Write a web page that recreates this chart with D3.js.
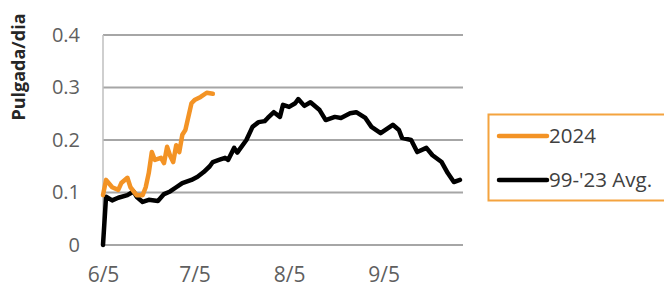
<!DOCTYPE html>
<html>
<head>
<meta charset="utf-8">
<script src="https://cdn.jsdelivr.net/npm/d3@7"></script>
<style>
  html, body { margin: 0; padding: 0; background: #fff; }
  svg { display: block; }
</style>
</head>
<body>
<svg id="chart" width="664" height="289"></svg>
<script>
// ---- data ----
const yTicks = [0, 0.1, 0.2, 0.3, 0.4];
const xTickLabels = ["6/5", "7/5", "8/5", "9/5"];

const seriesNames = ["2024", "99-'23 Avg."];

const dates2024 = ["6/5","6/6","6/8","6/10","6/11","6/13","6/14","6/16","6/18","6/19","6/20","6/21","6/22","6/24","6/25","6/26","6/27","6/28","6/29","6/30","7/1","7/2","7/4","7/5","7/7","7/9","7/11"];
const values2024 = [0.095,0.124,0.110,0.105,0.118,0.128,0.110,0.095,0.095,0.110,0.137,0.177,0.162,0.166,0.156,0.187,0.170,0.158,0.190,0.177,0.210,0.219,0.270,0.276,0.282,0.290,0.288];

const datesAvg = ["6/5","6/6","6/8","6/10","6/13","6/15","6/16","6/18","6/20","6/23","6/25","6/27","6/29","7/1","7/4","7/6","7/8","7/10","7/11","7/13","7/15","7/16","7/18","7/19","7/22","7/24","7/26","7/28","7/29","7/31","8/2","8/3","8/5","8/7","8/8","8/10","8/12","8/15","8/17","8/20","8/22","8/25","8/27","8/30","9/1","9/4","9/8","9/10","9/11","9/14","9/16","9/19","9/21","9/24","9/26","9/28","9/30"];
const valuesAvg = [0.000,0.092,0.085,0.090,0.095,0.102,0.092,0.082,0.086,0.084,0.097,0.102,0.110,0.118,0.124,0.130,0.139,0.150,0.158,0.162,0.166,0.162,0.185,0.176,0.200,0.225,0.234,0.236,0.242,0.253,0.244,0.267,0.263,0.270,0.278,0.265,0.272,0.257,0.238,0.244,0.242,0.251,0.253,0.242,0.225,0.213,0.229,0.219,0.204,0.200,0.177,0.185,0.171,0.158,0.137,0.120,0.124];

const colors = ["#f39325", "#000000"];

// ---- setup ----
const parse = d3.timeParse("%Y/%m/%d");
const toDate = s => parse("2024/" + s);

const svg = d3.select("#chart");
const mLeft = 103, mRight = 463, mTop = 35, mBottom = 245;

const x = d3.scaleTime()
  .domain([toDate("6/5"), toDate("10/1")])
  .range([mLeft, mRight]);
const y = d3.scaleLinear().domain([0, 0.4]).range([mBottom, mTop]);

// gridlines
svg.append("g")
  .selectAll("line")
  .data(yTicks)
  .join("line")
  .attr("x1", mLeft).attr("x2", mRight)
  .attr("y1", d => y(d)).attr("y2", d => y(d))
  .attr("stroke", "#a6a6a6").attr("stroke-width", 1.8);

// left axis line
svg.append("line")
  .attr("x1", mLeft).attr("x2", mLeft)
  .attr("y1", y(0.4)).attr("y2", y(0))
  .attr("stroke", "#bfbfbf").attr("stroke-width", 1.5);

// y axis labels
const yAxis = d3.axisLeft(y).tickValues(yTicks)
  .tickFormat(d => d === 0 ? "0" : d3.format(".1f")(d))
  .tickSize(0).tickPadding(23);
const gy = svg.append("g").attr("transform", `translate(${mLeft},0)`).call(yAxis);
gy.select(".domain").remove();
gy.selectAll("text")
  .attr("font-family", "Open Sans, sans-serif")
  .attr("font-size", 20).attr("fill", "#5f5f5f");

// x axis labels
const xAxis = d3.axisBottom(x)
  .tickValues(xTickLabels.map(toDate))
  .tickFormat((d, i) => xTickLabels[i])
  .tickSize(0).tickPadding(22);
const gx = svg.append("g").attr("transform", `translate(0,${mBottom})`).call(xAxis);
gx.select(".domain").remove();
gx.selectAll("text")
  .attr("font-family", "Open Sans, sans-serif")
  .attr("font-size", 21).attr("fill", "#5f5f5f");

// y title
svg.append("text")
  .attr("transform", "translate(25,67) rotate(-90)")
  .attr("text-anchor", "middle")
  .attr("font-family", "Open Sans, sans-serif")
  .attr("font-weight", "bold")
  .attr("font-size", 18)
  .attr("fill", "#262626")
  .text("Pulgada/dia");

// lines
const line = d3.line().x(d => x(d.date)).y(d => y(d.v)).curve(d3.curveLinear);
const avgData = datesAvg.map((s, i) => ({date: toDate(s), v: valuesAvg[i]}));
const data2024 = dates2024.map((s, i) => ({date: toDate(s), v: values2024[i]}));

svg.append("path").datum(avgData)
  .attr("d", line).attr("fill", "none")
  .attr("stroke", colors[1]).attr("stroke-width", 4.5)
  .attr("stroke-linejoin", "round").attr("stroke-linecap", "round");

svg.append("path").datum(data2024)
  .attr("d", line).attr("fill", "none")
  .attr("stroke", colors[0]).attr("stroke-width", 4.5)
  .attr("stroke-linejoin", "round").attr("stroke-linecap", "round");

// legend
svg.append("rect")
  .attr("x", 488.5).attr("y", 114.5).attr("width", 200).attr("height", 86)
  .attr("fill", "#fff").attr("stroke", "#f4a33f").attr("stroke-width", 2);

const legendY = [136, 180];
seriesNames.forEach((name, i) => {
  svg.append("line")
    .attr("x1", 499).attr("x2", 547)
    .attr("y1", legendY[i]).attr("y2", legendY[i])
    .attr("stroke", colors[i]).attr("stroke-width", 4.5)
    .attr("stroke-linecap", "round");
  svg.append("text")
    .attr("x", 549).attr("y", legendY[i])
    .attr("dy", "0.35em")
    .attr("font-family", "Open Sans, sans-serif")
    .attr("font-size", 20.5)
    .attr("fill", "#404040")
    .text(name);
});
</script>
</body>
</html>
